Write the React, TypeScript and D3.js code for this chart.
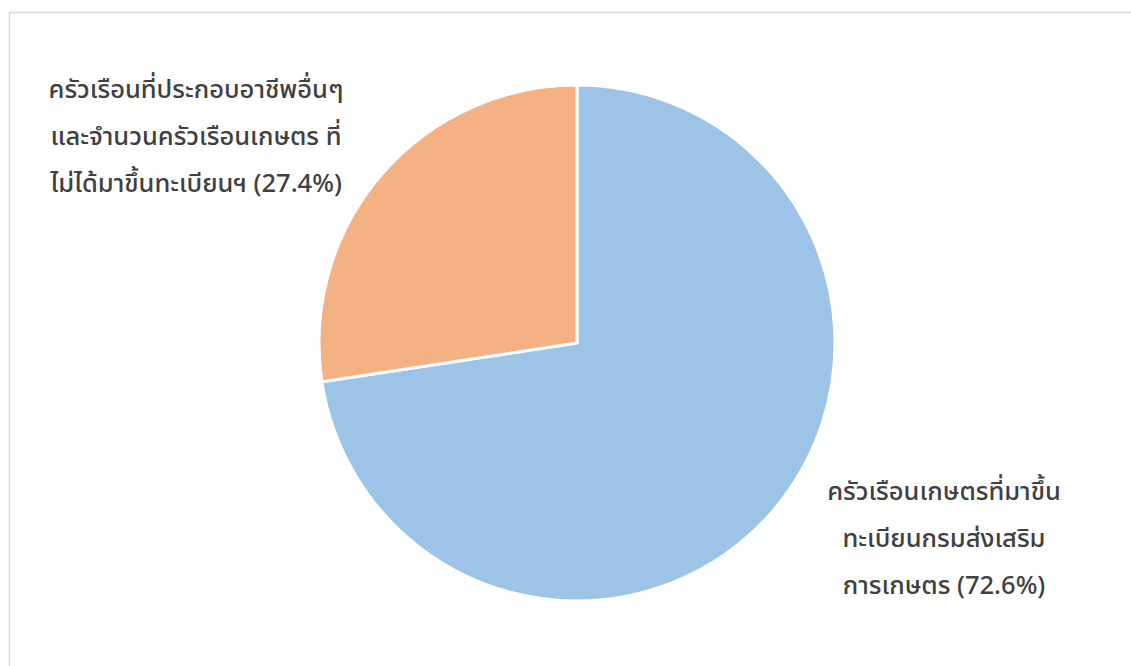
import * as React from 'react';
import * as d3 from 'd3';

const categories = [
  'ครัวเรือนเกษตรที่มาขึ้นทะเบียนกรมส่งเสริมการเกษตร',
  'ครัวเรือนที่ประกอบอาชีพอื่นๆและจำนวนครัวเรือนเกษตร ที่ไม่ได้มาขึ้นทะเบียนฯ',
];
const values = [72.6, 27.4];
const colors = ['#9dc3e6', '#f4b183'];
// label lines as drawn (wrapped text)
const labelLines = [
  ['ครัวเรือนเกษตรที่มาขึ้น', 'ทะเบียนกรมส่งเสริม', 'การเกษตร (72.6%)'],
  ['ครัวเรือนที่ประกอบอาชีพอื่นๆ', 'และจำนวนครัวเรือนเกษตร ที่', 'ไม่ได้มาขึ้นทะเบียนฯ (27.4%)'],
];
const labelPos = [
  [944, 491],
  [196, 89],
];

const width = 1131;
const height = 666;

export default function App() {
  const cx = 577;
  const cy = 343;
  const r = 258;

  const pie = d3.pie<number>().sort(null).value((d) => d);
  const arcs = pie(values);
  const arc = d3.arc<d3.PieArcDatum<number>>().innerRadius(0).outerRadius(r);

  return (
    <svg width={width} height={height} style={{ position: 'absolute', left: 0, top: 0 }}>
      <rect x={0} y={0} width={width} height={height} fill="#fff" />
      <rect x={9.5} y={12.5} width={1140} height={700} fill="#fff" stroke="#d9d9d9" strokeWidth={1.5} />
      <g transform={`translate(${cx},${cy})`}>
        {arcs.map((a, i) => (
          <path key={categories[i]} d={arc(a) || ''} fill={colors[i]} stroke="#fff" strokeWidth={3} strokeLinejoin="round" />
        ))}
      </g>
      {labelLines.map((lines, i) => (
        <text
          key={i}
          x={labelPos[i][0]}
          y={labelPos[i][1]}
          textAnchor="middle"
          fill="#404040"
          fontSize={25.5}
          fontWeight={500}
          fontFamily="Tahoma, 'Noto Sans', 'Noto Sans Thai', sans-serif"
        >
          {lines.map((l, j) => (
            <tspan key={j} x={labelPos[i][0]} dy={j === 0 ? '0.35em' : 47}>
              {l}
            </tspan>
          ))}
        </text>
      ))}
    </svg>
  );
}
